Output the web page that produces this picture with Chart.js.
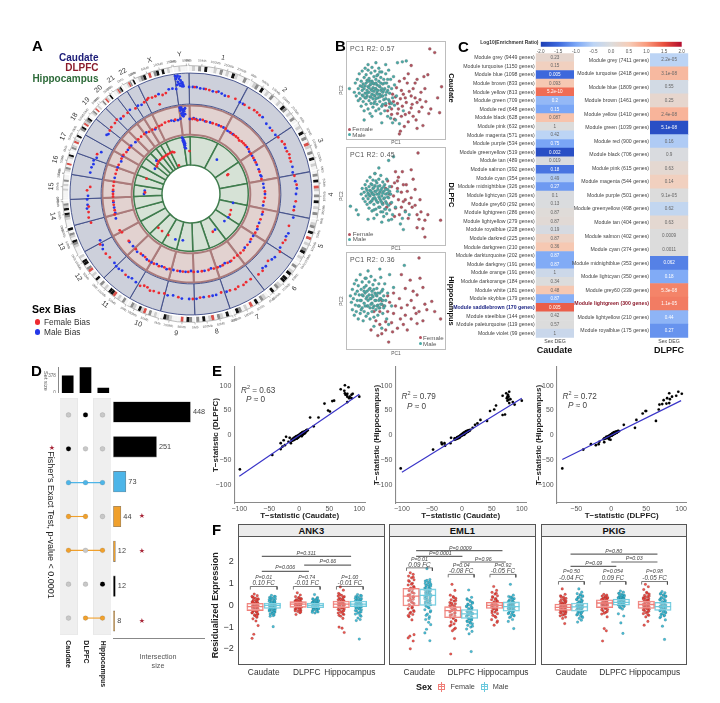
<!DOCTYPE html>
<html><head><meta charset="utf-8">
<script src="https://cdn.jsdelivr.net/npm/chart.js@4/dist/chart.umd.js"></script>
<style>
html,body{margin:0;padding:0;background:#fff;width:720px;height:703px;overflow:hidden;font-family:"Liberation Sans",Arial,sans-serif}
canvas{position:absolute}
.t{position:absolute;white-space:nowrap;line-height:1}
.b{position:absolute;box-sizing:border-box}
</style></head><body>
<script>
/* ---------- A: circos ---------- */
const chromosomes=['1','2','3','4','5','6','7','8','9','10','11','12','13','14','15','16','17','18','19','20','21','22','X','Y'];
const chromosomeMb=[249,243,198,191,181,171,159,146,141,135,135,133,115,107,102,90,81,78,59,63,48,51,155,59];
const cytobands=['wlwgwkwwlwgwlwklwwgw','wlgwkwlwgwwlwkgwlwgw','wlwkwgwrlwgwkwlw','wgwkwrlwgwkwlwgw','wlgwkwrwlwgkwlw','wgwlkwkkwlgwkw','wlgwkwrwlwgkw','wkwlgwrlwkwg','wgkwrwwwlgkw','wlwgwrlkwlgw','wgwlwrkkwlwg','wkwlwrgwkkwl','wwwlgkwlgwk','wwwlgkwklgw','wwwwlwlwgww','wlgwrwwlkw','wglwrlwkw','wgkwrlgkw','wlgwrwlw','wgwrlwkw','wwlrgkw','wwlrgwk','wlgkwrwgkwkwlw','wwlwww'];
const caudateFemale=[[2,107],[8,106],[10,105.5],[14,105],[21,104.5],[25,105],[31,104],[34,104],[37,105],[39,105],[41,104.5],[52,103],[57,104],[60,105],[62,106],[66,105],[68,106],[70,105],[72,105],[80,105],[85,106],[94,105],[99,104],[108,103],[116,105],[118,104],[123,106],[131,102],[137,105],[140,105],[145,104],[148,104],[150,105],[153,104],[155,105],[158,104],[163,103],[170,104],[175,104],[179,105],[187,104],[195,103],[198,104],[201,104],[203,105],[205,103],[207,103],[209,105],[219,104],[232,103],[235,104],[241,104],[254,104],[257,105],[260,104],[263,103],[272,104],[274,101],[293,102],[308,103],[310,104],[313,104],[315,105],[319,103],[322,103],[327,102],[333,103],[335,104],[336,105],[338,104],[340,104],[344,103],[346,104],[340.8,95]];
const caudateMale=[[359,107],[1,107],[3,107],[5,106],[7,106],[12,105],[15,106],[17,105],[19,104],[28,104],[30,104],[43,105],[47,103],[50,103],[55,103],[64,105],[75,105],[78,104],[83,105],[87,106],[90,105],[97,104],[103,105],[112,105],[114,104],[121,104],[127,105],[129,104],[134,104],[136,103],[160,104],[166,104],[168,104],[173,104],[177,105],[181,105],[185,105],[190,103],[193,104],[212,104],[215,103],[217,104],[222,103],[224,104],[226,104],[228,103],[238,104],[240,102],[243,102],[262,105],[264,104],[267,104],[269,103],[282,103],[285,103],[287,102],[289,103],[291,101],[295,99],[305,103],[306,102],[317,103],[324,104],[329,103],[331,102],[342,105],[348,107],[350,107],[352,106],[352,119],[352.5,116],[353,118],[353,113],[353.5,119],[353.5,111],[354,116],[354,109],[354.5,118],[354.5,113],[355,111],[355,115],[352.25,110],[352.75,114],[353.25,108],[353.75,112],[354.25,110],[354.75,108]];
const dlpfcFemale=[[1,75],[3,75],[5,74],[9,75],[12,74],[17,74],[20,74],[24,74],[28,74],[33,73],[36,73],[38,73],[40,73],[42,72],[44,73],[46,73],[48,73],[52,73],[56,72],[60,72],[64,72],[72,72],[78,72],[88,74],[93,74],[96,73],[104,74],[110,74],[116,74],[121,75],[127,75],[132,76],[137,77],[140,77],[143,77],[146,77],[149,78],[152,78],[156,78],[160,78],[163,78],[167,78],[172,78],[178,78],[182,78],[186,78],[190,78],[196,78],[200,78],[204,79],[208,79],[212,79],[216,78],[220,78],[225,78],[233,78],[241,79],[243,80],[255,79],[258,78],[262,78],[265,78],[268,78],[270,78],[273,78],[276,78],[279,78],[285,78],[288,78],[292,78],[297,78],[300,78],[303,77],[307,77],[316,76],[319,76],[322,76],[326,75],[329,75],[332,75],[335,75],[337,75],[340,76],[343,76],[348,76]];
const dlpfcMale=[[359,75],[2,76],[4,75],[7,75],[11,74],[15,74],[22,74],[26,74],[30,73],[32,73],[35,73],[50,73],[54,72],[58,72],[62,72],[66,72],[70,72],[75,72],[76,72.5],[82,73],[85,73],[90,74],[99,73],[106,74],[113,74],[118,75],[124,75],[129,76],[135,76],[150,78],[154,77],[158,78],[165,77],[170,78],[175,78],[180,77],[184,78],[188,78],[193,78],[198,79],[202,78],[206,78],[210,79],[214,79],[218,78],[223,79],[228,78],[232,78],[252,79],[256,78],[260,78],[264,78],[272,78],[282,78],[290,78],[295,77],[299,78],[305,77],[309,77],[313,76],[324,76],[331,74],[345,76],[347,75],[350,75],[352,76],[352.5,87],[352.5,84],[353,86],[353,81],[353.5,87],[353.5,79],[354,85],[354,82],[354.5,78],[354.5,84],[355,80],[355,83],[353.25,83],[353.75,85],[354.25,80],[354.75,86]];
const hippoFemale=[[358,43],[62,42],[62.5,41],[112,43],[118,44],[150,43.6],[209,47],[218,47],[224,47],[272,46],[289,47],[309,44],[312,45],[315,46],[318,46],[321,46],[324,46],[327,46],[330,46],[333,46],[336,46],[338,45],[337,31]];
const hippoMale=[[37,43],[102,43],[122,44],[129,43],[146,43],[190,47],[199,48],[274,46.4],[270,47],[305,44],[314,48],[351,57],[351.25,54],[351.5,56],[351.75,52],[352,55],[352,50],[352.25,47],[352.5,53],[352.75,49],[353,51],[353,46]];

/* ---------- B: PCA ---------- */
const pcaCaudateMale=[[8,48],[9,58],[10,44],[11,62],[12,39],[12,52],[13,68],[13,47],[14,55],[14,41],[15,60],[15,33],[16,71],[16,50],[16,45],[17,57],[17,38],[18,64],[18,52],[18,28],[19,74],[19,47],[19,42],[20,58],[20,35],[20,67],[21,50],[21,44],[21,61],[22,54],[22,30],[22,72],[23,48],[23,39],[23,63],[24,56],[24,43],[24,25],[25,69],[25,51],[25,36],[26,60],[26,46],[26,75],[27,53],[27,41],[27,32],[28,65],[28,49],[28,57],[29,44],[29,38],[29,71],[30,62],[30,52],[30,28],[31,47],[31,56],[31,35],[32,67],[32,42],[32,50],[33,60],[33,30],[33,74],[34,46],[34,54],[34,38],[35,64],[35,25],[35,50],[36,44],[36,70],[36,33],[37,57],[37,48],[38,40],[38,62],[39,28],[39,52],[40,68],[40,45],[40,36],[41,58],[42,22],[42,50],[43,72],[43,40],[44,47],[44,32],[45,62],[45,20],[46,52],[47,42],[47,15],[48,65],[49,34],[50,18],[52,80],[57,81],[61,82],[58,28],[54,14],[40,78],[30,80],[22,78],[3,52],[18,18],[26,22],[36,15],[19,55],[21,47],[23,53],[24,60],[25,43],[26,50],[27,58],[28,45],[29,52],[30,41],[30,58],[31,50],[32,46],[33,55],[34,43],[35,58],[36,52],[37,44],[38,50],[39,58],[40,41],[41,48],[42,62],[43,54],[44,38],[17,44],[16,54],[20,42],[22,60],[25,57],[28,36],[31,66],[34,70],[37,35],[46,36],[49,56],[51,44]];
const pcaCaudateFemale=[[85,95],[90,91],[66,77],[63,68],[72,62],[79,65],[83,67],[70,58],[68,52],[62,58],[56,50],[58,46],[55,41],[60,42],[52,36],[50,43],[48,38],[46,30],[53,30],[57,33],[61,37],[64,49],[66,44],[70,42],[72,37],[75,40],[77,32],[81,38],[86,30],[97,54],[95,26],[84,25],[74,27],[68,22],[64,26],[60,24],[56,22],[52,25],[46,24],[42,28],[40,34],[44,36],[47,46],[51,53],[54,60],[59,63],[67,35],[71,18],[63,16],[59,11],[55,6],[54,3],[78,12],[72,9],[66,31],[49,19],[76,48],[80,52],[93,42]];
const pcaDlpfcMale=[[4,39],[15,52],[16,58],[17,47],[18,54],[19,62],[19,44],[20,50],[20,58],[21,41],[21,66],[22,53],[22,47],[23,60],[23,37],[24,56],[24,50],[24,70],[25,44],[25,63],[26,53],[26,34],[27,58],[27,47],[27,67],[28,51],[28,41],[29,61],[29,55],[29,74],[30,46],[30,36],[31,64],[31,52],[31,30],[32,57],[32,43],[33,68],[33,49],[33,38],[34,61],[34,54],[35,45],[35,72],[35,33],[36,58],[36,50],[37,65],[37,41],[38,55],[38,47],[38,28],[39,62],[39,36],[40,52],[40,44],[41,68],[41,31],[42,57],[42,49],[43,40],[43,24],[44,60],[44,35],[45,52],[46,43],[46,25],[47,30],[48,92],[43,88],[29,74],[33,80],[50,38],[55,20],[58,14],[57,26],[28,26],[22,25],[12,30],[10,35],[36,22],[52,55],[60,33],[64,30],[21,56],[23,51],[25,55],[26,45],[27,52],[28,59],[29,48],[30,55],[31,44],[32,60],[33,52],[34,47],[35,56],[36,43],[37,53],[38,60],[39,48],[40,57],[41,42],[42,53],[43,48],[44,55],[24,43],[26,62],[28,35],[30,66],[34,38],[37,33],[40,36]];
const pcaDlpfcFemale=[[73,96],[66,78],[68,68],[50,76],[53,70],[57,76],[49,64],[42,66],[46,60],[52,58],[58,62],[62,55],[66,48],[70,57],[56,54],[60,46],[64,42],[53,46],[48,50],[45,42],[50,37],[56,38],[60,34],[67,38],[72,30],[76,33],[74,25],[80,24],[83,30],[72,16],[78,15],[96,24],[80,6],[70,40],[63,26],[54,30],[49,28],[58,44],[44,52],[40,58],[52,66],[61,62],[75,46],[37,42],[41,38]];
const pcaHippoMale=[[4,55],[5,48],[6,62],[6,40],[7,52],[8,68],[8,34],[9,57],[9,45],[10,72],[10,38],[11,60],[11,50],[12,66],[12,30],[13,44],[13,56],[14,78],[14,36],[15,62],[15,50],[16,42],[16,70],[17,55],[17,28],[18,64],[18,47],[18,38],[19,74],[19,58],[20,52],[20,33],[20,66],[21,44],[21,60],[22,82],[22,50],[22,36],[23,70],[23,56],[24,42],[24,63],[24,30],[25,52],[25,76],[26,47],[26,60],[26,38],[27,67],[27,54],[28,44],[28,32],[29,72],[29,58],[30,50],[30,40],[31,63],[31,55],[32,45],[32,34],[33,68],[33,50],[34,58],[34,42],[35,75],[35,52],[36,46],[37,62],[37,36],[38,55],[39,44],[39,68],[40,50],[41,30],[42,58],[43,24],[46,44],[48,64],[34,84],[59,88],[36,20],[28,22],[44,78],[14,50],[16,56],[18,60],[19,44],[21,54],[22,44],[23,62],[24,52],[25,46],[26,56],[27,42],[28,62],[29,50],[30,56],[31,44],[32,58],[33,42],[34,52],[35,46],[36,60],[37,50],[38,42],[12,44],[15,40],[20,74]];
const pcaHippoFemale=[[74,96],[56,78],[65,72],[75,74],[60,63],[68,60],[72,56],[78,64],[66,50],[54,52],[48,58],[44,48],[50,44],[56,42],[62,45],[69,42],[74,38],[80,46],[87,49],[90,38],[78,28],[72,25],[66,30],[60,34],[55,30],[48,36],[42,38],[38,44],[34,38],[30,28],[34,24],[40,27],[46,26],[52,20],[58,24],[62,18],[47,16],[40,18],[36,14],[43,5],[25,18],[32,12],[96,30],[82,40],[28,38],[36,50],[42,55],[71,36]];

/* ---------- C: enrichment heatmaps ---------- */
const caudateModules=['Module grey (9449 genes)','Module turquoise (1150 genes)','Module blue (1098 genes)','Module brown (833 genes)','Module yellow (813 genes)','Module green (709 genes)','Module red (648 genes)','Module black (628 genes)','Module pink (632 genes)','Module magenta (571 genes)','Module purple (534 genes)','Module greenyellow (519 genes)','Module tan (489 genes)','Module salmon (392 genes)','Module cyan (354 genes)','Module midnightblue (326 genes)','Module lightcyan (326 genes)','Module grey60 (292 genes)','Module lightgreen (286 genes)','Module lightyellow (279 genes)','Module royalblue (228 genes)','Module darkred (225 genes)','Module darkgreen (210 genes)','Module darkturquoise (202 genes)','Module darkgrey (191 genes)','Module orange (191 genes)','Module darkorange (184 genes)','Module white (181 genes)','Module skyblue (179 genes)','Module saddlebrown (170 genes)','Module steelblue (144 genes)','Module paleturquoise (119 genes)','Module violet (99 genes)'];
const caudateRatio=[0.2,0.4,-1.5,0.55,1.3,-0.8,-1,0.6,0,-0.5,-1,-1.8,-0.05,-1.4,-0.6,-1.1,-0.05,-0.03,0.05,0.1,-0.1,0.3,0.55,-0.95,-0.95,-0.25,0,0.55,-0.9,1.4,0,0,-0.3];
const caudateP=['0.23','0.15','0.005','0.093','5.2e-10','0.2','0.15','0.087','1','0.42','0.75','0.002','0.019','0.18','0.49','0.27','0.1','0.13','0.87','0.87','0.19','0.87','0.36','0.87','0.87','1','0.34','0.48','0.87','0.005','0.42','0.57','1'];
const dlpfcModules=['Module grey (7411 genes)','Module turquoise (2418 genes)','Module blue (1809 genes)','Module brown (1461 genes)','Module yellow (1410 genes)','Module green (1039 genes)','Module red (900 genes)','Module black (706 genes)','Module pink (615 genes)','Module magenta (544 genes)','Module purple (501 genes)','Module greenyellow (498 genes)','Module tan (404 genes)','Module salmon (402 genes)','Module cyan (374 genes)','Module midnightblue (353 genes)','Module lightcyan (350 genes)','Module grey60 (339 genes)','Module lightgreen (300 genes)','Module lightyellow (210 genes)','Module royalblue (175 genes)'];
const dlpfcRatio=[-0.5,0.7,-0.15,0.2,0.75,-1.8,-0.6,-0.05,0.15,0.4,0,-0.4,0.15,0,0,-1.3,-0.95,1.15,1.2,-0.85,-1.15];
const dlpfcP=['2.2e-05','3.1e-08','0.55','0.25','2.4e-08','5.1e-08','0.16','0.9','0.63','0.14','9.1e-05','0.62','0.63','0.0009','0.0011','0.062','0.18','5.3e-08','1.1e-05','0.44','0.27'];
const colorStops=[[-2,'#1c3fb5'],[-1.5,'#3c68dc'],[-1,'#7aa6f6'],[-0.5,'#bcd4f5'],[0,'#dcdcdc'],[0.5,'#f6cdb8'],[1,'#f99a7c'],[1.5,'#e84f3d'],[2,'#b30d2e']];

/* ---------- D: UpSet ---------- */
const setNames=['Caudate','DLPFC','Hippocampus'];
const setSizes=[380,565,110];
const intersectionSizes=[448,251,73,44,12,12,8];
const intersectionRows=[[0,1,0],[1,0,0],[1,1,1],[1,1,0],[1,0,1],[0,0,1],[0,1,1]];
const intersectionColors=['#000000','#000000','#4db5e8','#f0a02c','#f0a02c','#000000','#f0a02c'];
const intersectionStarred=[0,0,0,1,1,0,1];

/* ---------- E: T-statistics ---------- */
const tCaudDlpfc=[[-99,-69],[-45,-40],[-31,-28],[-31,-16],[-26,-10],[-22,-3],[-16,-5],[-28,-23],[-24,-20],[-18,-13],[-14,-16],[18,36],[32,36],[24,18],[42,64],[48,50],[51,48],[55,69],[58,70],[69,93],[76,101],[75,90],[82,97],[79,82],[80,78],[87,82],[89,84],[100,78],[80,67],[87,75],[83,75],[76,85],[77,82],[80,84],[84,78],[-13,-9],[-12,-11],[-11,-7],[-10,-10],[-9,-5],[-9,-8],[-8,-9],[-7,-4],[-7,-7],[-6,-6],[-6,-3],[-5,-5],[-5,-2],[-4,-4],[-4,-7],[-3,-1],[-3,-4],[-2,-2],[-2,-5],[-1,0],[-1,-3],[0,1],[0,-2],[1,2],[1,-1],[2,0],[2,3],[3,1],[3,4],[4,2],[4,-2],[5,3],[5,6],[6,4],[6,1],[7,5],[7,7],[8,3],[8,6],[9,7],[9,4],[10,8],[10,5],[11,9],[12,8],[13,11],[14,10],[-8,-6],[-6,-5],[-5,-4],[-4,-3],[-3,-3],[-2,-1],[-1,-1],[0,0],[1,0],[1,1],[2,1],[2,2],[3,2],[3,3],[4,3],[4,4],[5,4],[5,5],[6,5],[7,6],[8,6],[9,6],[10,7],[-7,-6],[-3,-2],[-2,-3],[0,-1],[6,3],[8,5],[12,10]];
const tCaudHippo=[[-102,-67],[-48,-29],[-34,-15],[-33,-18],[-29,-16],[-28,-21],[-19,-16],[-18,-5],[-12,-6],[68,80],[74,85],[79,88],[77,82],[75,75],[78,72],[81,73],[79,65],[85,67],[88,62],[100,70],[68,41],[72,42],[57,60],[47,49],[54,52],[42,29],[31,31],[26,24],[22,21],[18,15],[76,78],[78,78],[76,70],[-12,-9],[-11,-7],[-10,-8],[-9,-6],[-8,-7],[-8,-4],[-7,-5],[-6,-6],[-6,-3],[-5,-4],[-4,-2],[-4,-5],[-3,-3],[-3,-1],[-2,-2],[-2,0],[-1,-1],[-1,1],[0,0],[0,2],[1,0],[1,3],[2,1],[2,3],[3,2],[3,5],[4,3],[4,1],[5,4],[5,6],[6,4],[6,7],[7,5],[7,8],[8,6],[9,7],[9,9],[10,8],[11,8],[12,10],[13,9],[14,11],[-7,-4],[-5,-3],[-3,-2],[-2,-1],[-1,0],[0,1],[1,1],[1,2],[2,2],[3,3],[3,4],[4,4],[4,5],[5,5],[6,5],[6,6],[7,6],[8,7],[8,8],[9,8],[10,7],[11,10]];
const tDlpfcHippo=[[-70,-67],[-40,-29],[-29,-18],[-22,-20],[-18,-18],[-17,-13],[-10,-14],[-3,-8],[-1,-9],[18,21],[36,31],[34,15],[45,44],[49,49],[50,49],[64,29],[68,52],[69,62],[73,63],[75,71],[79,64],[80,75],[83,65],[84,73],[83,85],[87,78],[93,80],[96,88],[101,84],[-11,-8],[-10,-6],[-9,-7],[-8,-5],[-7,-6],[-7,-3],[-6,-4],[-5,-5],[-5,-2],[-4,-3],[-3,-1],[-3,-4],[-2,-2],[-2,0],[-1,-1],[-1,1],[0,0],[0,2],[1,1],[1,3],[1,-1],[2,2],[2,4],[3,3],[3,5],[3,1],[4,4],[4,6],[5,5],[5,3],[6,4],[6,7],[7,6],[8,7],[8,5],[9,8],[10,9],[11,8],[-6,-5],[-4,-4],[-2,-1],[0,1],[1,2],[2,3],[3,4],[4,5],[5,4],[6,6],[7,5],[7,7],[8,6],[9,7]];
const fitCaudDlpfc=[[-100,-83],[100,83]];
const fitCaudHippo=[[-100,-75],[100,75]];
const fitDlpfcHippo=[[-70,-49],[100,70]];

/* ---------- F: residualized expression, one list per region ---------- */
const regions=['Caudate','DLPFC','Hippocampus'];
const ank3Female=[[0.52,0.45,0.38,0.33,0.28,0.24,0.2,0.16,0.13,0.1,0.07,0.04,0.02,0,-0.03,-0.05,-0.08,-0.1,-0.13,-0.16,-0.19,-0.22,-0.26,-0.3,-0.35,-0.41,-0.47,-0.55,-0.62,-0.72,-0.93,-1.33,-1.52,0.11,0.05,-0.01,-0.06,-0.11,-0.17,-0.24,-0.28,-0.33,-0.38,-0.44,-0.5,0.15,0.22,0.3,0.35,0.42],[0.58,0.48,0.4,0.35,0.31,0.27,0.24,0.21,0.18,0.16,0.14,0.12,0.1,0.08,0.06,0.05,0.03,0.01,0,-0.02,-0.04,-0.07,-0.1,-0.13,-0.17,-0.22,-0.28,-0.34,-0.42,0.36,0.29,0.22,0.17,0.13,0.09,0.04,-0.01,-0.05,-0.09,-0.15,-0.2,-0.25,-0.31],[0.85,0.7,0.55,0.46,0.4,0.34,0.3,0.26,0.22,0.19,0.16,0.13,0.1,0.07,0.05,0.03,0,-0.03,-0.06,-0.09,-0.13,-0.17,-0.22,-0.28,-0.35,-0.42,-0.5,-0.6,-1,-1.05,-1.25,0.5,0.43,0.37,0.28,0.2,0.14,0.08,0.01,-0.05,-0.11,-0.19,-0.25,-0.32,-0.39,-0.46]];
const ank3Male=[[0.46,0.42,0.37,0.32,0.29,0.25,0.22,0.19,0.16,0.13,0.11,0.08,0.06,0.04,0.02,0,-0.02,-0.04,-0.06,-0.09,-0.12,-0.15,-0.18,-0.22,-0.26,-0.31,-0.37,-0.44,-0.5,-0.98,0.4,0.34,0.27,0.2,0.14,0.09,0.03,-0.01,-0.05,-0.1,-0.14,-0.2,-0.24,-0.29,-0.34,-0.4,-0.47],[0.5,0.36,0.3,0.26,0.22,0.19,0.16,0.14,0.12,0.1,0.07,0.05,0.03,0.01,0,-0.02,-0.04,-0.06,-0.08,-0.1,-0.12,-0.15,-0.18,-0.21,-0.25,-0.3,-0.35,0.33,0.28,0.24,0.2,0.15,0.11,0.06,0.02,-0.03,-0.07,-0.11,-0.16,-0.2,-0.27,-0.32],[0.5,0.46,0.41,0.36,0.31,0.27,0.24,0.21,0.18,0.15,0.12,0.1,0.07,0.05,0.03,0,-0.02,-0.05,-0.08,-0.11,-0.15,-0.2,-0.26,-0.32,-0.4,-0.5,-0.58,-0.65,-0.7,-1.55,0.44,0.38,0.33,0.28,0.23,0.16,0.09,0.01,-0.06,-0.13,-0.18,-0.24,-0.3,-0.36,-0.45]];
const eml1Female=[[1.5,1.43,1.35,1.27,1.18,1.1,1.02,0.94,0.87,0.8,0.74,0.68,0.62,0.56,0.5,0.45,0.4,0.35,0.28,0.22,0.15,0.08,0,-0.08,-0.16,-0.24,-0.32,-0.42,-0.52,-0.67,-1.35,-1.42,-1.5,-1.64,-2,1.3,1.14,0.98,0.84,0.71,0.59,0.48,0.38,0.25,0.12,0.04,-0.12,-0.28,-0.37,-0.47],[0.97,0.69,0.47,0.4,0.33,0.26,0.2,0.13,0.07,0.02,-0.04,-0.1,-0.15,-0.2,-0.25,-0.3,-0.36,-0.42,-0.48,-0.54,-0.6,-0.68,-0.76,-0.85,-0.95,-1.05,-1.17,-1.53,-2.24,0.36,0.23,0.1,-0.01,-0.12,-0.22,-0.33,-0.45,-0.57,-0.72,-0.9,-1.1],[0.87,0.69,0.6,0.52,0.44,0.37,0.31,0.26,0.21,0.16,0.12,0.08,0.04,0,-0.04,-0.08,-0.12,-0.16,-0.2,-0.25,-0.31,-0.38,-0.46,-0.55,-0.66,-0.78,-0.91,0.56,0.4,0.28,0.18,0.1,0.02,-0.06,-0.14,-0.22,-0.34,-0.5,-0.72]];
const eml1Male=[[1.69,1.19,1.12,1.05,0.98,0.92,0.86,0.8,0.75,0.7,0.65,0.6,0.55,0.5,0.45,0.4,0.34,0.28,0.22,0.16,0.1,0.03,-0.04,-0.12,-0.2,-0.3,-0.4,-0.52,-0.65,-0.78,-0.89,-1.1,-1.27,-1.63,1.15,1.08,1.01,0.95,0.89,0.83,0.77,0.72,0.67,0.62,0.57,0.52,0.47,0.42,0.37,0.31,0.25,0.19,0.13,0.06,-0.08,-0.25,-0.46,-0.6],[0.71,0.37,0.3,0.22,0.14,0.06,0,-0.06,-0.12,-0.18,-0.24,-0.29,-0.34,-0.39,-0.44,-0.49,-0.55,-0.6,-0.66,-0.72,-0.78,-0.85,-0.92,-1,-1.09,-1.2,-1.31,-2.13,0.26,0.18,0.1,0.03,-0.03,-0.09,-0.15,-0.21,-0.27,-0.32,-0.37,-0.42,-0.47,-0.52,-0.57,-0.63,-0.69,-0.75,-0.82,-0.96],[0.97,0.47,0.41,0.36,0.31,0.26,0.22,0.17,0.13,0.09,0.05,0.01,-0.03,-0.07,-0.11,-0.15,-0.19,-0.24,-0.29,-0.35,-0.41,-0.48,-0.56,-0.65,-0.74,-1.07,0.38,0.28,0.2,0.15,0.11,0.07,0.03,-0.01,-0.05,-0.09,-0.13,-0.17,-0.21,-0.26,-0.32,-0.38,-0.45,-0.52]];
const pkigFemale=[[0.76,0.51,0.44,0.38,0.32,0.27,0.22,0.18,0.14,0.1,0.07,0.03,0,-0.03,-0.06,-0.09,-0.12,-0.15,-0.18,-0.22,-0.26,-0.3,-0.35,-0.41,-0.48,-0.54,-0.6,-0.84,0.4,0.29,0.2,0.12,0.05,0.01,-0.04,-0.07,-0.11,-0.14,-0.2,-0.24,-0.28,-0.33,-0.38,-0.45],[0.51,0.47,0.43,0.38,0.34,0.3,0.27,0.24,0.21,0.18,0.15,0.12,0.1,0.07,0.05,0.02,0,-0.03,-0.06,-0.1,-0.14,-0.19,-0.25,-0.32,-0.4,-0.53,-1.07,-1.17,-1.64,0.41,0.36,0.32,0.28,0.25,0.19,0.13,0.08,0.03,-0.01,-0.05,-0.12,-0.2,-0.28,-0.36],[0.97,0.86,0.73,0.6,0.52,0.46,0.4,0.35,0.31,0.27,0.23,0.19,0.16,0.12,0.09,0.05,0.02,-0.02,-0.05,-0.09,-0.13,-0.18,-0.24,-0.3,-0.38,-0.46,-0.53,-0.74,-0.91,0.56,0.43,0.37,0.29,0.21,0.14,0.07,0,-0.04,-0.07,-0.11,-0.16,-0.21,-0.27,-0.34,-0.42]];
const pkigMale=[[0.76,0.61,0.54,0.47,0.41,0.36,0.31,0.26,0.22,0.18,0.14,0.1,0.06,0.03,0,-0.03,-0.07,-0.1,-0.14,-0.18,-0.22,-0.27,-0.32,-0.38,-0.44,-0.52,-0.6,-0.68,-0.77,0.5,0.44,0.38,0.28,0.2,0.12,0.04,-0.01,-0.05,-0.09,-0.12,-0.16,-0.2,-0.25,-0.3,-0.35,-0.41,-0.48,-0.56],[0.66,0.61,0.56,0.51,0.47,0.43,0.39,0.36,0.33,0.3,0.28,0.25,0.23,0.2,0.18,0.15,0.13,0.1,0.07,0.04,0.01,-0.03,-0.08,-0.17,-0.39,-0.49,-0.81,-1.29,0.54,0.45,0.41,0.37,0.34,0.31,0.27,0.24,0.21,0.16,0.12,0.08,0.05,0.02,-0.05,-0.12],[0.64,0.58,0.52,0.46,0.41,0.36,0.31,0.27,0.22,0.18,0.14,0.1,0.06,0.02,-0.02,-0.06,-0.1,-0.14,-0.18,-0.23,-0.28,-0.34,-0.41,-0.48,-0.57,-0.67,-0.96,-1.57,0.55,0.49,0.43,0.33,0.25,0.16,0.08,0,-0.04,-0.08,-0.12,-0.16,-0.2,-0.25,-0.31,-0.38,-0.45,-0.52]];
const ank3FemaleBox=[[-0.24,-0.06,0.1],[-0.09,0.06,0.17],[-0.11,0.06,0.2]];
const ank3MaleBox=[[-0.14,0,0.11],[-0.11,0,0.11],[-0.06,0.06,0.2]];
const eml1FemaleBox=[[-0.03,0.43,0.79],[-0.57,-0.24,-0.06],[-0.14,0,0.14]];
const eml1MaleBox=[[0,0.46,0.76],[-0.6,-0.39,-0.19],[-0.27,-0.06,0.16]];
const pkigFemaleBox=[[-0.23,-0.09,0.06],[-0.1,0.11,0.26],[-0.14,0.04,0.2]];
const pkigMaleBox=[[-0.27,-0.07,0.11],[0.01,0.14,0.29],[-0.23,-0.06,0.14]];
const ank3GroupP=[['P=0.01','0.10 FC'],['P=0.74','-0.01 FC'],['P=1.00','-0.01 FC']];
const eml1GroupP=[['P=0.01','0.09 FC'],['P=0.04','-0.08 FC'],['P=0.92','-0.05 FC']];
const pkigGroupP=[['P=0.50','-0.04 FC'],['P=0.054','0.09 FC'],['P=0.98','-0.05 FC']];
const jitterPattern=[-0.02,0.05,-0.06,0.01,0.07,-0.04,0.03,-0.07,0.06,-0.01,0.04,-0.05,0.02,0.07,-0.03,-0.07,0.05];

/* ---------- helpers ---------- */
Chart.defaults.font.family='"Liberation Sans",Arial,sans-serif';
Chart.defaults.animation=false;
Chart.defaults.plugins.legend.display=false;
Chart.defaults.plugins.tooltip.enabled=false;

function T(text,x,y,o={}){
  const d=document.createElement('div');d.className='t';d.textContent=text;
  const a=o.align||'center',rot=o.rot||0;
  d.style.cssText+=`left:${x}px;top:${y}px;font-size:${o.size||8}px;color:${o.color||'#222'};font-weight:${o.bold?'bold':'normal'};font-style:${o.italic?'italic':'normal'};`;
  const tx=a==='center'?'-50%':a==='right'?'-100%':'0';
  d.style.transform=`translate(${tx},-50%) rotate(${rot}deg)`;
  if(a!=='center')d.style.transformOrigin=a==='right'?'100% 50%':'0 50%';
  document.body.appendChild(d);return d;
}
function B(l,t,r,b,css){const d=document.createElement('div');d.className='b';
  d.style.cssText+=`left:${l}px;top:${t}px;width:${r-l}px;height:${b-t}px;${css}`;document.body.appendChild(d);return d;}
function mk(box,area,cfg){
  const bl=Math.floor(box.l),bt=Math.floor(box.t),w=Math.ceil(box.r-bl),h=Math.ceil(box.b-bt);
  const c=document.createElement('canvas');c.width=w;c.height=h;
  c.style.left=bl+'px';c.style.top=bt+'px';c.style.width=w+'px';c.style.height=h+'px';
  document.body.appendChild(c);
  const opt=cfg.options=cfg.options||{};
  opt.responsive=false;
  opt.layout={padding:{left:0,bottom:0,top:area.t-bt,right:bl+w-area.r}};
  for(const id of Object.keys(opt.scales||{})){
    const s=opt.scales[id];
    s.afterFit=sc=>{
      if(sc.isHorizontal())sc.height=bt+h-area.b;else sc.width=area.l-bl;
      sc.paddingLeft=sc.paddingRight=sc.paddingTop=sc.paddingBottom=0;
    };
  }
  return new Chart(c,cfg);
}
const axisGray='#8a8a8a';

/* ---------- A ---------- */
const circ={cx:191,cy:194,size:300};
const rotationDeg=-1;
const totalMb=chromosomeMb.reduce((a,b)=>a+b,0);
const bandColor={w:'#f4f4f4',l:'#cfcfcf',g:'#8c8c8c',k:'#111111',r:'#d8504a'};
const bandData=[],bandColors=[];
cytobands.forEach((s,i)=>{
  const gap=5,step=(chromosomeMb[i]-gap)/s.length;
  for(const ch of s){bandData.push(step);bandColors.push(bandColor[ch]);}
  bandData.push(gap);bandColors.push('rgba(0,0,0,0)');
});
const spacerRing=w=>({data:chromosomeMb,backgroundColor:'rgba(0,0,0,0)',borderWidth:0,weight:w});
const circosLabels={id:'circosLabels',afterDraw(ch){
  const c=ch.ctx,cx=circ.size/2,cy=circ.size/2;let cum=0;
  chromosomes.forEach((name,i)=>{
    const L=chromosomeMb[i];
    const a0=rotationDeg+cum/totalMb*360,a1=rotationDeg+(cum+L-5)/totalMb*360;
    c.save();c.translate(cx,cy);
    c.strokeStyle='#777';c.lineWidth=.5;c.beginPath();
    c.arc(0,0,128.5,(a0-90)*Math.PI/180,(a1-90)*Math.PI/180);c.stroke();
    for(let mb=0;mb<L;mb+=50){
      const d=a0+mb/totalMb*360,rad=(d-90)*Math.PI/180;
      c.beginPath();c.moveTo(128.5*Math.cos(rad),128.5*Math.sin(rad));c.lineTo(130.5*Math.cos(rad),130.5*Math.sin(rad));c.stroke();
      c.save();c.rotate(d*Math.PI/180+((d>90&&d<270)?Math.PI:0));
      c.fillStyle='#666';c.font='3.3px "Liberation Sans"';c.textAlign='center';c.textBaseline='middle';
      c.fillText(mb+'Mb',0,(d>90&&d<270)?133.5:-133.5);c.restore();
    }
    const mid=(a0+a1)/2,flip=mid>90&&mid<270;
    c.rotate(mid*Math.PI/180+(flip?Math.PI:0));
    c.fillStyle='#333';c.font='7px "Liberation Sans"';c.textAlign='center';c.textBaseline='middle';
    c.fillText(name,0,flip?140:-140);
    c.restore();cum+=L;
  });
}};
const pad=(circ.size-256)/2;
const cbox={l:circ.cx-150,t:circ.cy-150};
const dc=document.createElement('canvas');dc.width=dc.height=circ.size;
dc.style.cssText=`left:${cbox.l}px;top:${cbox.t}px;width:${circ.size}px;height:${circ.size}px`;document.body.appendChild(dc);
new Chart(dc,{type:'doughnut',
  data:{labels:chromosomes,datasets:[
    {data:bandData,backgroundColor:bandColors,borderWidth:0,weight:5},
    spacerRing(2),
    {data:chromosomeMb,backgroundColor:'#cdd0db',borderColor:'#3c4a86',borderWidth:.9,spacing:1.4,weight:31},
    spacerRing(1),
    {data:chromosomeMb,backgroundColor:'#e2d2d0',borderColor:'#ab7b7b',borderWidth:2,weight:29},
    spacerRing(2),
    {data:chromosomeMb,backgroundColor:'#d6e2d6',borderColor:'#3f7c4d',borderWidth:1.5,weight:28}
  ]},
  options:{responsive:false,layout:{padding:pad},rotation:rotationDeg,cutout:29},plugins:[circosLabels]});
const angleLabels=Array.from({length:1440},(_,i)=>String(i/4));
function radarSeries(list,color){
  const arr=new Array(1440).fill(null);
  list.forEach(([d,r])=>{let k=Math.round(d*4)%1440;let g=0;while(arr[k]!==null&&g<8){k=(k+1)%1440;g++;}arr[k]=r;});
  return {data:arr,showLine:false,fill:false,pointRadius:1.4,pointBackgroundColor:color,pointBorderWidth:0,borderWidth:0};
}
const rc=document.createElement('canvas');rc.width=rc.height=circ.size;
rc.style.cssText=`left:${cbox.l}px;top:${cbox.t}px;width:${circ.size}px;height:${circ.size}px`;document.body.appendChild(rc);
const cRed='#ee2a30',cBlue='#2438e8';
new Chart(rc,{type:'radar',data:{labels:angleLabels,datasets:[
    radarSeries(caudateFemale,cRed),radarSeries(caudateMale,cBlue),
    radarSeries(dlpfcFemale,cRed),radarSeries(dlpfcMale,cBlue),
    radarSeries(hippoFemale,cRed),radarSeries(hippoMale,cBlue)]},
  options:{responsive:false,layout:{padding:0},scales:{r:{min:0,max:150,grid:{display:false},angleLines:{display:false},ticks:{display:false},pointLabels:{display:false}}}}});

T('A',32,45,{align:'left',size:15,bold:true,color:'#000'});
T('Caudate',98.5,58,{align:'right',size:10,bold:true,color:'#1c1c78'});
T('DLPFC',98.5,68,{align:'right',size:10,bold:true,color:'#8b1c2c'});
T('Hippocampus',98.5,78.5,{align:'right',size:10,bold:true,color:'#2e6b3a'});
T('Sex Bias',32,309,{align:'left',size:10.5,bold:true,color:'#000'});
B(34.5,319,40,324.5,'border-radius:50%;background:'+cRed);
B(34.5,329,40,334.5,'border-radius:50%;background:'+cBlue);
T('Female Bias',44,321.8,{align:'left',size:8.3,color:'#333'});
T('Male Bias',44,331.8,{align:'left',size:8.3,color:'#333'});

/* ---------- B ---------- */
function pca(male,female,t,b,label,legY,legX){
  B(345.5,t,445.5,b,'border:1px solid #bdbdbd');
  mk({l:342,t:t-1,r:449,b:b+1},{l:346.5,r:444.5,t:t+1,b:b-1},{type:'scatter',
    data:{datasets:[
      {data:male,backgroundColor:'#49aaa6',borderColor:'#5b6d6d',borderWidth:.3,pointRadius:1.45},
      {data:female,backgroundColor:'#b4525f',borderColor:'#6d5b5b',borderWidth:.3,pointRadius:1.45}]},
    options:{scales:{x:{display:false,min:0,max:100},y:{display:false,min:0,max:100}}}});
  T(label,350,t+8,{align:'left',size:6.9,color:'#555'}).style.letterSpacing='.3px';
  T('PC1',396,b+3.6,{size:4.8,color:'#555'});
  T('PC2',341.5,(t+b)/2,{size:4.8,color:'#555',rot:-90});
  [['Female','#b4525f'],['Male','#49aaa6']].forEach((e,i)=>{
    B(legX-1.5,legY[i]-1.5,legX+1.5,legY[i]+1.5,'border-radius:50%;background:'+e[1]);
    T(e[0],legX+3,legY[i],{align:'left',size:6.2,color:'#555'});
  });
}
pca(pcaCaudateMale,pcaCaudateFemale,41,139.5,'PC1 R2: 0.57',[129.3,134.8],349.3);
pca(pcaDlpfcMale,pcaDlpfcFemale,146.7,245.7,'PC1 R2: 0.45',[234,239.4],349.8);
pca(pcaHippoMale,pcaHippoFemale,251.7,350,'PC1 R2: 0.36',[337.7,343.7],420);
T('B',335,45,{align:'left',size:15,bold:true,color:'#000'});
T('Caudate',450.7,88,{size:7.5,bold:true,color:'#111',rot:90});
T('DLPFC',450.7,195,{size:7.5,bold:true,color:'#111',rot:90});
T('Hippocampus',450.7,301,{size:7.5,bold:true,color:'#111',rot:90});

/* ---------- C ---------- */
function hexMix(a,b,t){const p=s=>[1,3,5].map(i=>parseInt(s.substr(i,2),16));
  const x=p(a),y=p(b);return `rgb(${x.map((v,i)=>Math.round(v+(y[i]-v)*t)).join(',')})`;}
function ratioColor(v){for(let i=0;i<colorStops.length-1;i++){const[a,ca]=colorStops[i],[b,cb]=colorStops[i+1];
  if(v<=b)return hexMix(ca,cb,(v-a)/(b-a));}return colorStops[colorStops.length-1][1];}
const emphasised={'Module saddlebrown (170 genes)':'#1b2384','Module lightgreen (300 genes)':'#8c1a2c'};
function heat(mods,vals,ps,area,boxL){
  const cellText={id:'cellText',afterDatasetsDraw(ch){
    const c=ch.ctx,m=ch.getDatasetMeta(0),xs=ch.scales.x;
    c.save();c.font='4.6px "Liberation Sans"';c.textAlign='center';c.textBaseline='middle';
    ps.forEach((p,i)=>{c.fillStyle=Math.abs(vals[i])>=.8?'#ffffff':'#666';
      c.fillText(p,xs.getPixelForValue(.5),m.data[i].y);});c.restore();}};
  mk({l:boxL,t:area.t-1,r:area.r+2,b:area.b+1},area,{type:'bar',
    data:{labels:mods,datasets:[{data:vals.map(()=>1),backgroundColor:vals.map(ratioColor),barPercentage:1,categoryPercentage:1}]},
    options:{indexAxis:'y',scales:{
      x:{display:false,min:0,max:1},
      y:{grid:{display:false,drawTicks:false},border:{display:false},
        ticks:{autoSkip:false,padding:1,
          color:c=>emphasised[mods[c.index]]||'#444',
          font:c=>({size:5.2,weight:emphasised[mods[c.index]]?'bold':'normal'})}}}},
    plugins:[cellText]});
}
heat(caudateModules,caudateRatio,caudateP,{l:535.7,r:574,t:53.3,b:337.7},452);
heat(dlpfcModules,dlpfcRatio,dlpfcP,{l:650,r:688.3,t:53.3,b:337.7},562);
mk({l:532,t:40,r:690,b:56},{l:540.7,r:681.7,t:41.7,b:46.7},{type:'bar',
  data:{labels:['ratio'],datasets:[{data:[[-2,2]],barPercentage:1,categoryPercentage:1,borderSkipped:false,
    backgroundColor:c=>{const a=c.chart.chartArea;if(!a)return '#ccc';
      const g=c.chart.ctx.createLinearGradient(a.left,0,a.right,0);
      colorStops.forEach(([v,col])=>g.addColorStop((v+2)/4,col));return g;}}]},
  options:{indexAxis:'y',scales:{
    x:{min:-2,max:2,grid:{display:false,tickLength:2,tickColor:'#777'},border:{display:false},
      ticks:{stepSize:.5,padding:0,color:'#555',font:{size:4.6},maxRotation:0,callback:v=>v.toFixed(1)}},
    y:{display:false}}}});
T('Log10(Enrichment Ratio)',538.5,43.3,{align:'right',size:4.9,bold:true,color:'#333'});
T('C',458,45.5,{align:'left',size:15,bold:true,color:'#000'});
T('Sex DEG',555,341.7,{size:5.2,color:'#444'});
T('Caudate',554.5,350,{size:9,bold:true,color:'#111'});
T('Sex DEG',669,341.7,{size:5.2,color:'#444'});
T('DLPFC',669,350,{size:9,bold:true,color:'#111'});

/* ---------- D ---------- */
const mRows=intersectionSizes.map((_,i)=>i+1);
mk({l:36,t:366,r:114,b:393},{l:58.8,r:112.2,t:367.3,b:393},{type:'bar',
  data:{labels:setNames,datasets:[{data:setSizes,backgroundColor:'#000',barThickness:11}]},
  options:{scales:{x:{display:false},
    y:{min:0,max:567,grid:{display:false,tickLength:2,tickColor:'#777'},border:{color:'#888'},
      ticks:{stepSize:200,padding:1,font:{size:4.6},color:'#666'}}}}});
const matrixSets=[];
matrixSets.push({type:'bar',data:[{x:1,y:[.5,7.5]},{x:3,y:[.5,7.5]}],backgroundColor:'#efefef',barThickness:18,order:10,borderSkipped:false,borderColor:'#dcdcdc',borderWidth:.6});
const greys=[];
intersectionRows.forEach((row,r)=>{
  const on=[];row.forEach((v,s)=>{if(v)on.push({x:s+1,y:r+1});else greys.push({x:s+1,y:r+1});});
  if(on.length>1)matrixSets.push({type:'line',data:on,borderColor:intersectionColors[r],borderWidth:1.1,pointRadius:0,order:5});
  matrixSets.push({type:'scatter',data:on,backgroundColor:intersectionColors[r],pointRadius:2.4,order:1});
});
matrixSets.push({type:'scatter',data:greys,backgroundColor:'#c8c8c8',pointRadius:2.4,order:2});
mk({l:55,t:393,r:116,b:640},{l:58.8,r:112.2,t:394.6,b:638.4},{type:'bar',data:{datasets:matrixSets},
  options:{scales:{x:{type:'linear',display:false,offset:false,min:.5,max:3.5},y:{type:'linear',display:false,reverse:true,min:.5,max:7.5}}}});
const upsetMarks={id:'upsetMarks',afterDatasetsDraw(ch){
  const c=ch.ctx,x=ch.scales.x,y=ch.scales.y;c.save();
  c.textBaseline='middle';
  intersectionSizes.forEach((v,i)=>{
    c.fillStyle='#444';c.font='7.3px "Liberation Sans"';c.textAlign='left';
    c.fillText(String(v),x.getPixelForValue(v)+2.5,y.getPixelForValue(i));
    if(intersectionStarred[i]){c.fillStyle='#a82638';c.font='7px "DejaVu Sans"';c.textAlign='center';
      c.fillText('★',x.getPixelForValue(166),y.getPixelForValue(i));}
  });
  [0,200,400].forEach(v=>{c.save();c.translate(x.getPixelForValue(v),642);c.rotate(Math.PI/2);
    c.fillStyle='#555';c.font='5px "Liberation Sans"';c.textAlign='left';c.fillText(String(v),0,0);c.restore();});
  c.restore();}};
mk({l:110,t:392,r:216,b:652},{l:113.3,r:204,t:394.6,b:638.4},{type:'bar',
  data:{labels:mRows.map(String),datasets:[{data:intersectionSizes,backgroundColor:intersectionColors,barThickness:20.5,borderColor:'#777',borderWidth:.6,borderSkipped:false}]},
  options:{indexAxis:'y',scales:{
    x:{min:0,max:527,grid:{display:false,tickLength:2,tickColor:'#888'},border:{color:'#888'},ticks:{display:false}},
    y:{display:false}}},plugins:[upsetMarks]});
T('D',31,369.5,{align:'left',size:15,bold:true,color:'#000'});
T('Set size',45,381,{size:5.6,color:'#555',rot:90});
T('Caudate',67.7,654,{size:7,bold:true,color:'#222',rot:90});
T('DLPFC',85.7,652,{size:7,bold:true,color:'#222',rot:90});
T('Hippocampus',103.3,664,{size:7,bold:true,color:'#222',rot:90});
T('Intersection',158,657,{size:7.2,color:'#555'});
T('size',158,665.5,{size:7.2,color:'#555'});
T("Fisher's Exact Test, p-value < 0.0001",50,525,{size:9,color:'#222',rot:90});
T('★',52,448,{size:7,color:'#a82638'}).style.fontFamily='"DejaVu Sans"';

/* ---------- E ---------- */
function minusFmt(v){return String(v).replace('-','\u2212');}
function tplot(pts,fit,area,xr,xticks,xTitle,yTitle,boxL){
  mk({l:boxL,t:362,r:area.r+5,b:521},area,{type:'scatter',
    data:{datasets:[
      {type:'line',data:fit,borderColor:'#3a35c8',borderWidth:1.2,pointRadius:0,order:0},
      {data:pts,backgroundColor:'#000',pointRadius:1.3,order:1}]},
    options:{scales:{
      x:{type:'linear',min:xr[0],max:xr[1],afterBuildTicks:s=>{s.ticks=xticks.map(v=>({value:v}));},
        grid:{display:false,tickLength:2,tickColor:'#888'},border:{color:axisGray,width:1.1},
        ticks:{autoSkip:false,maxRotation:0,padding:0,font:{size:7},color:'#555',callback:minusFmt},
        title:{display:true,text:xTitle,padding:0,font:{size:8,weight:'bold'},color:'#222'}},
      y:{min:-137,max:138,afterBuildTicks:s=>{s.ticks=[-100,-50,0,50,100].map(v=>({value:v}));},
        grid:{display:false,tickLength:2,tickColor:'#888'},border:{color:axisGray,width:1.1},
        ticks:{autoSkip:false,padding:1,font:{size:7},color:'#555',callback:minusFmt},
        title:{display:true,text:yTitle,padding:0,font:{size:8,weight:'bold'},color:'#222'}}}}});
}
tplot(tCaudDlpfc,fitCaudDlpfc,{l:234.3,r:365,t:363,b:503},[-108.3,109.5],[-100,-50,0,50,100],'T\u2212statistic (Caudate)','T\u2212statistic (DLPFC)',211);
tplot(tCaudHippo,fitCaudHippo,{l:395.3,r:526,t:363,b:503},[-111,107],[-100,-50,0,50,100],'T\u2212statistic (Caudate)','T\u2212statistic (Hippocampus)',372);
tplot(tDlpfcHippo,fitDlpfcHippo,{l:556.7,r:686.7,t:363,b:503},[-78,108],[-50,0,50,100],'T\u2212statistic (DLPFC)','T\u2212statistic (Hippocampus)',534);
function rLabel(x,y,r,x2,y2){
  const d=T('',x,y,{align:'left',size:8.2,color:'#444'});
  d.innerHTML='<i>R</i><sup style="font-size:5.5px;line-height:0">2</sup> = '+r;
  const p=T('',x2,y2,{align:'left',size:8.2,color:'#444'});p.innerHTML='<i>P</i> \u2248 0';
}
rLabel(241,391,'0.63',246,399.5);
rLabel(401.5,397,'0.79',407,406.5);
rLabel(562.5,397,'0.72',568,405.7);
T('E',212,369.5,{align:'left',size:15,bold:true,color:'#000'});

/* ---------- F ---------- */
const femaleLine='#ef7e78',maleLine='#6cc9dd';
function jitterSeries(groups,off){
  const out=[];groups.forEach((g,r)=>g.forEach((v,i)=>out.push({x:r+1+off+jitterPattern[i%jitterPattern.length],y:v})));return out;
}
function facet(o){
  const {area,boxL,fem,mal,femBox,malBox,bars,groupP,groupY,pY,fcY,showY}=o;
  const sets=[];
  const boxes=(bx,off,col)=>({type:'bar',data:bx.map((q,r)=>({x:r+1+off,y:[q[0],q[2]]})),backgroundColor:'rgba(255,255,255,.28)',borderColor:col,borderWidth:.9,borderSkipped:false,barThickness:16.5,grouped:false,order:1});
  const meds=(bx,off,col)=>({type:'scatter',data:bx.map((q,r)=>({x:r+1+off,y:q[1]})),pointStyle:'line',pointRadius:8.2,pointBorderColor:col,pointBorderWidth:1.3,order:0});
  sets.push({type:'scatter',data:jitterSeries(fem,-.2),backgroundColor:'rgba(228,58,50,.85)',pointRadius:1.35,order:3});
  sets.push({type:'scatter',data:jitterSeries(mal,.2),backgroundColor:'rgba(44,176,205,.85)',pointRadius:1.35,order:3});
  sets.push(boxes(femBox,-.2,femaleLine),boxes(malBox,.2,maleLine),meds(femBox,-.2,femaleLine),meds(malBox,.2,maleLine));
  bars.forEach(b=>sets.push({type:'line',data:[{x:b.x0,y:b.y},{x:b.x1,y:b.y}],borderColor:'#666',borderWidth:1.2,pointRadius:0,order:0}));
  groupY.forEach((y,i)=>sets.push({type:'line',data:[{x:i+.69,y:y-.14},{x:i+.69,y},{x:i+1.31,y},{x:i+1.31,y:y-.14}],borderColor:'#444',borderWidth:.7,pointRadius:0,order:0}));
  const labels={id:'fLabels',afterDatasetsDraw(ch){
    const c=ch.ctx,x=ch.scales.x,y=ch.scales.y;c.save();c.textAlign='center';c.textBaseline='middle';c.fillStyle='#444';
    c.font='italic 5.3px "Liberation Sans"';
    bars.forEach(b=>c.fillText(b.text,x.getPixelForValue(b.lx),y.getPixelForValue(b.ly)));
    groupP.forEach((g,i)=>{
      c.font='italic 5.3px "Liberation Sans"';c.fillText(g[0],x.getPixelForValue(i+1),y.getPixelForValue(pY[i]));
      c.font='italic 6.3px "Liberation Sans"';c.fillText(g[1],x.getPixelForValue(i+1),y.getPixelForValue(fcY[i]));});
    c.restore();}};
  mk({l:boxL,t:536,r:area.r+1,b:680},area,{type:'bar',data:{datasets:sets},
    options:{scales:{
      x:{type:'linear',offset:false,min:o.xr[0],max:o.xr[1],afterBuildTicks:s=>{s.ticks=[1,2,3].map(v=>({value:v}));},
        grid:{display:false,tickLength:2,tickColor:'#444'},border:{display:false},
        ticks:{autoSkip:false,minRotation:0,maxRotation:0,padding:1,font:{size:8.4},color:'#333',callback:v=>regions[v-1]}},
      y:{min:-2.747,max:2.76,afterBuildTicks:s=>{s.ticks=[-2,-1,0,1,2].map(v=>({value:v}));},
        grid:{display:false,tickLength:showY?2:0,tickColor:'#444'},border:{display:false},
        ticks:{display:showY,autoSkip:false,padding:2,font:{size:9},color:'#333',callback:minusFmt},
        title:{display:showY,text:'Residualized Expression',padding:0,font:{size:9,weight:'bold'},color:'#222'}}}},
    plugins:[labels]});
  B(area.l,536.4,area.r,area.b,'border:1.2px solid #555;border-top:0');
  B(area.l,524,area.r,537,'border:1.2px solid #555;background:#ececec');
  T(o.gene,(area.l+area.r)/2,530.8,{size:9.4,bold:true,color:'#111'});
}
facet({gene:'ANK3',area:{l:237.7,r:385,t:536.7,b:665},boxL:210.5,xr:[.396,3.62],showY:true,
  fem:ank3Female,mal:ank3Male,femBox:ank3FemaleBox,malBox:ank3MaleBox,groupP:ank3GroupP,
  groupY:[.87,.87,.87],pY:[1.3,1.3,1.3],fcY:[1.02,1.02,1.02],
  bars:[{x0:.956,x1:3.03,y:2.26,text:'P=0.311',lx:1.99,ly:2.4},{x0:1.94,x1:3.03,y:1.86,text:'P=0.66',lx:2.49,ly:2},{x0:.956,x1:2.05,y:1.57,text:'P=0.006',lx:1.5,ly:1.73}]});
facet({gene:'EML1',area:{l:389,r:535.7,t:536.7,b:665},boxL:385,xr:[.402,3.59],showY:false,
  fem:eml1Female,mal:eml1Male,femBox:eml1FemaleBox,malBox:eml1MaleBox,groupP:eml1GroupP,
  groupY:[1.73,1.43,1.43],pY:[2.1,1.83,1.83],fcY:[1.86,1.57,1.57],
  bars:[{x0:.92,x1:2.99,y:2.52,text:'P=0.0009',lx:1.98,ly:2.62},{x0:.92,x1:2.03,y:2.26,text:'P=0.0001',lx:1.5,ly:2.39},{x0:1.98,x1:3.07,y:2,text:'P=0.96',lx:2.53,ly:2.12}]});
facet({gene:'PKIG',area:{l:540.7,r:687.3,t:536.7,b:665},boxL:537,xr:[.402,3.6],showY:false,
  fem:pkigFemale,mal:pkigMale,femBox:pkigFemaleBox,malBox:pkigMaleBox,groupP:pkigGroupP,
  groupY:[1.1,1.1,1.1],pY:[1.54,1.54,1.54],fcY:[1.26,1.26,1.26],
  bars:[{x0:.98,x1:3.07,y:2.36,text:'P=0.80',lx:2.02,ly:2.5},{x0:1.96,x1:3.07,y:2,text:'P=0.03',lx:2.51,ly:2.15},{x0:.98,x1:2.08,y:1.8,text:'P=0.09',lx:1.54,ly:1.94}]});
T('F',212,529,{align:'left',size:15,bold:true,color:'#000'});
T('Sex',424,686.8,{size:9,bold:true,color:'#111'});
function legendBox(x,col){B(x-3.5,683.5,x+3.5,690,`border:.9px solid ${col}`);B(x-3.5,686.4,x+3.5,687.4,`background:${col}`);B(x-.4,681.5,x+.4,692,`background:${col}`);}
legendBox(441,femaleLine);T('Female',450.5,686.8,{align:'left',size:7.3,color:'#444'});
legendBox(484,maleLine);T('Male',492.7,686.8,{align:'left',size:7.3,color:'#444'});
</script>
</body></html>
